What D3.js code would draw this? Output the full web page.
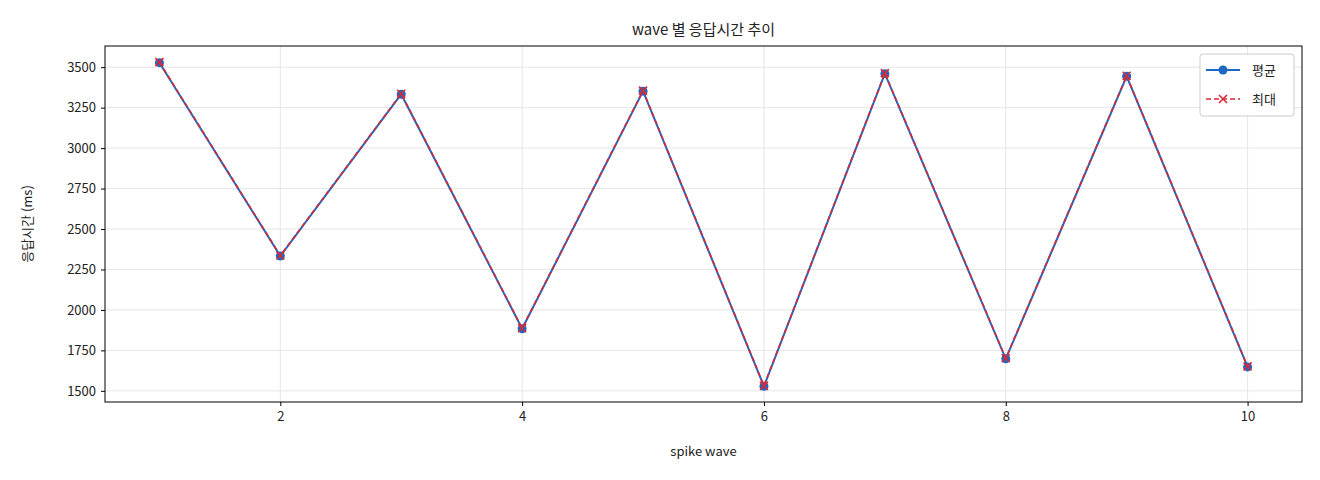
<!DOCTYPE html>
<html><head><meta charset="utf-8">
<script src="https://cdn.jsdelivr.net/npm/d3@7"></script>
<style>body{margin:0;background:#fff}text{font-family:"Noto Sans CJK KR","DejaVu Sans",sans-serif;fill:#222}</style>
</head><body><svg id="c" width="1320" height="480"></svg>
<script>
const waves=[1,2,3,4,5,6,7,8,9,10];
const meanVals=[3528,2333,3333,1884,3352,1528,3460,1698,3444,1648];
const maxVals=[3531,2336,3336,1887,3355,1531,3463,1701,3447,1651];
const yTicks=[1500,1750,2000,2250,2500,2750,3000,3250,3500];
const xTicks=[2,4,6,8,10];
const svg=d3.select("#c");
const L=105,R=1302,T=46,B=402;
const x=d3.scaleLinear().domain([0.55,10.45]).range([L,R]);
const y=d3.scaleLinear().domain([1431,3631]).range([B,T]);
const g=svg.append("g");
g.selectAll(".gx").data(xTicks).join("line").attr("x1",d=>x(d)).attr("x2",d=>x(d)).attr("y1",T).attr("y2",B).attr("stroke","#e6e6e6");
g.selectAll(".gy").data(yTicks).join("line").attr("y1",d=>y(d)).attr("y2",d=>y(d)).attr("x1",L).attr("x2",R).attr("stroke","#e6e6e6");
const xa=svg.append("g").attr("transform",`translate(0,${B})`).call(d3.axisBottom(x).tickValues(xTicks).tickFormat(d3.format("d")).tickSize(4).tickPadding(6));
const ya=svg.append("g").attr("transform",`translate(${L},0)`).call(d3.axisLeft(y).tickValues(yTicks).tickFormat(d3.format("d")).tickSize(4).tickPadding(5));
[xa,ya].forEach(a=>{a.select(".domain").remove();a.selectAll("text").style("font-size","13px");});
svg.append("rect").attr("x",L).attr("y",T).attr("width",R-L).attr("height",B-T).attr("fill","none").attr("stroke","#000");
const line=d3.line().x((d,i)=>x(waves[i])).y(d=>y(d));
svg.append("path").attr("d",line(meanVals)).attr("fill","none").attr("stroke","#1f67c2").attr("stroke-width",2);
svg.selectAll(".m").data(meanVals).join("circle").attr("cx",(d,i)=>x(waves[i])).attr("cy",d=>y(d)).attr("r",4.5).attr("fill","#1f67c2");
svg.append("path").attr("d",line(maxVals)).attr("fill","none").attr("stroke","#d62a36").attr("stroke-width",1.6).attr("stroke-dasharray","5,3");
const cross=(s,cx,cy,r)=>s.append("path").attr("d",`M${cx-r},${cy-r}L${cx+r},${cy+r}M${cx-r},${cy+r}L${cx+r},${cy-r}`).attr("stroke","#d62a36").attr("stroke-width",1.6);
maxVals.forEach((d,i)=>cross(svg,x(waves[i]),y(d),4));
svg.append("text").attr("x",(L+R)/2).attr("y",35).attr("text-anchor","middle").style("font-size","15px").text("wave 별 응답시간 추이");
svg.append("text").attr("x",(L+R)/2).attr("y",456).attr("text-anchor","middle").style("font-size","13px").text("spike wave");
svg.append("text").attr("transform",`translate(32,${(T+B)/2}) rotate(-90)`).attr("text-anchor","middle").style("font-size","13px").text("응답시간 (ms)");
const lg=svg.append("g");
lg.append("rect").attr("x",1200).attr("y",54).attr("width",94).attr("height",62).attr("rx",3).attr("fill","#fff").attr("stroke","#ccc");
lg.append("line").attr("x1",1206).attr("x2",1240).attr("y1",70).attr("y2",70).attr("stroke","#1f67c2").attr("stroke-width",2);
lg.append("circle").attr("cx",1223).attr("cy",70).attr("r",4.5).attr("fill","#1f67c2");
lg.append("text").attr("x",1252).attr("y",75).style("font-size","13px").text("평균");
lg.append("line").attr("x1",1206).attr("x2",1240).attr("y1",99).attr("y2",99).attr("stroke","#d62a36").attr("stroke-width",1.6).attr("stroke-dasharray","5,3");
cross(lg,1223,99,4);
lg.append("text").attr("x",1252).attr("y",104).style("font-size","13px").text("최대");
</script></body></html>
